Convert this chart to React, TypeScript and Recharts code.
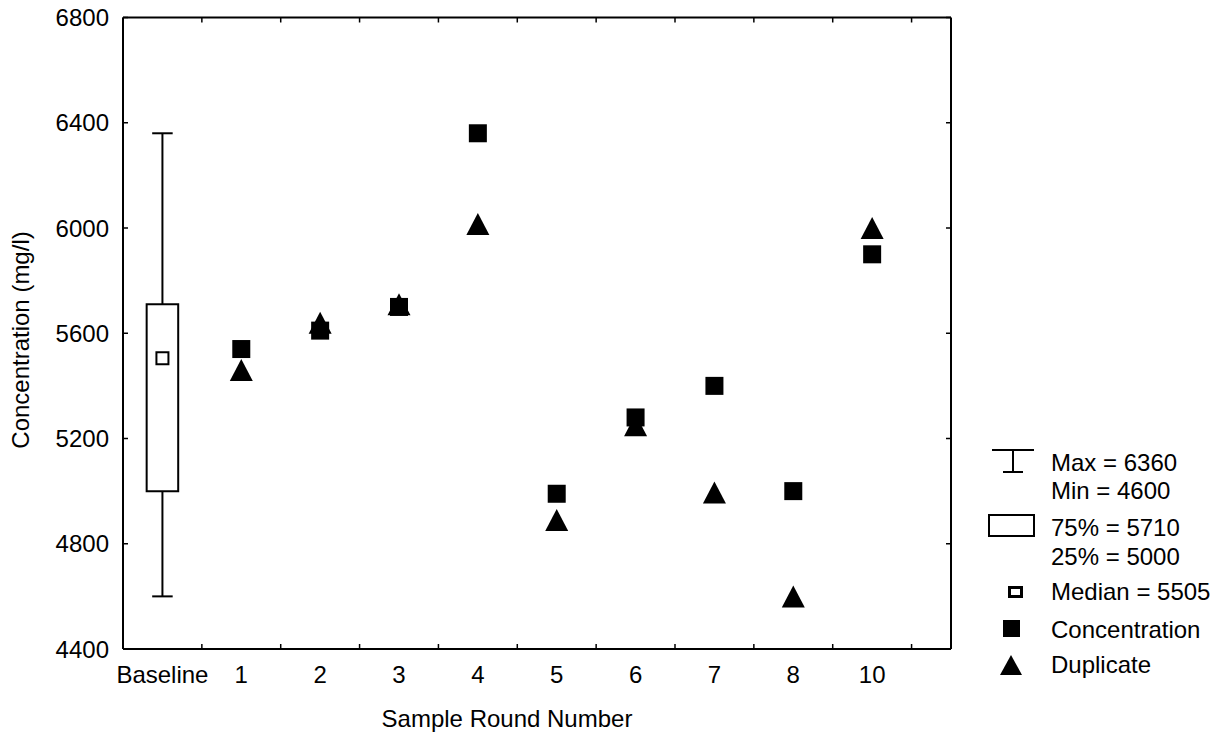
import React from "react";
import { ComposedChart, Scatter, XAxis, YAxis, ReferenceArea, ReferenceLine } from "recharts";

// tick labels along the bottom (Baseline + sample rounds)
const roundLabels = ["Baseline", "1", "2", "3", "4", "5", "6", "7", "8", "10"];
// values for rounds 1..10 (positions 1..9)
const concentration = [5540, 5610, 5700, 6360, 4990, 5280, 5400, 5000, 5900];
const duplicate = [5460, 5640, 5710, 6015, 4890, 5250, 4995, 4600, 6000];
// baseline box plot stats
const baselineMax = 6360;
const baselineMin = 4600;
const baselineQ75 = 5710;
const baselineQ25 = 5000;
const baselineMedian = 5505;
const yTicks = [4400, 4800, 5200, 5600, 6000, 6400, 6800];

const FONT = "'Liberation Sans', Arial, Helvetica, sans-serif";

const concData = concentration.map((v, i) => ({ x: i + 1, y: v }));
const dupData = duplicate.map((v, i) => ({ x: i + 1, y: v }));
const medianData = [{ x: 0, y: baselineMedian }];

// ticks at category centres (labels) and at boundaries (tick marks)
const xTicks: number[] = [];
roundLabels.forEach((_, i) => {
  xTicks.push(i - 0.5, i);
});
xTicks.push(roundLabels.length - 0.5);
const halfTicks = xTicks.filter((t) => !Number.isInteger(t));

const BottomTick = (props: any) => {
  const { x, y, payload } = props;
  const v = payload.value;
  if (Number.isInteger(v)) {
    return (
      <text x={x} y={y + 34} textAnchor="middle" fontSize={24} fontFamily={FONT} fill="#000">
        {roundLabels[v]}
      </text>
    );
  }
  return <line x1={x} y1={y} x2={x} y2={y - 5} stroke="#000" strokeWidth={1.5} />;
};

const TopTick = (props: any) => {
  const { x, y } = props;
  return <line x1={x} y1={y} x2={x} y2={y + 5} stroke="#000" strokeWidth={1.5} />;
};

const LeftTick = (props: any) => {
  const { x, y, payload } = props;
  return (
    <g>
      <line x1={x} y1={y} x2={x + 5} y2={y} stroke="#000" strokeWidth={1.5} />
      <text x={x - 14} y={y + 8.5} textAnchor="end" fontSize={24} fontFamily={FONT} fill="#000">
        {payload.value}
      </text>
    </g>
  );
};

const RightTick = (props: any) => {
  const { x, y } = props;
  return <line x1={x} y1={y} x2={x - 5} y2={y} stroke="#000" strokeWidth={1.5} />;
};

const SquareShape = (p: any) => <rect x={p.cx - 9} y={p.cy - 9} width={18} height={18} fill="#000" />;
const TriangleShape = (p: any) => (
  <path d={`M${p.cx},${p.cy - 11} L${p.cx + 11.5},${p.cy + 11} L${p.cx - 11.5},${p.cy + 11} Z`} fill="#000" />
);
const MedianShape = (p: any) => (
  <rect x={p.cx - 6} y={p.cy - 6} width={12} height={12} fill="#fff" stroke="#000" strokeWidth={2} />
);
const NoShape = () => <g />;

const axisLine = { stroke: "#000", strokeWidth: 2 };

export default function App() {
  return (
    <div style={{ position: "fixed", left: 0, top: 0, width: 1228, height: 740, background: "#fff" }}>
      <ComposedChart width={1228} height={740} margin={{ top: 16.5, right: 276, bottom: 0, left: 0 }}>
        <XAxis
          dataKey="x"
          type="number"
          domain={[-0.5, 10]}
          ticks={xTicks}
          interval={0}
          allowDataOverflow
          height={91}
          tickSize={0}
          tickMargin={0}
          tickLine={false}
          axisLine={axisLine}
          tick={<BottomTick />}
          label={{
            content: () => (
              <text x={507} y={727} textAnchor="middle" fontSize={24} fontFamily={FONT} fill="#000">
                Sample Round Number
              </text>
            ),
          }}
        />
        <XAxis
          xAxisId="top"
          dataKey="x"
          orientation="top"
          type="number"
          domain={[-0.5, 10]}
          ticks={halfTicks}
          interval={0}
          allowDataOverflow
          height={1}
          tickSize={0}
          tickMargin={0}
          tickLine={false}
          axisLine={axisLine}
          tick={<TopTick />}
        />
        <YAxis
          type="number"
          domain={[4400, 6800]}
          ticks={yTicks}
          interval={0}
          allowDataOverflow
          width={123}
          tickSize={0}
          tickMargin={0}
          tickLine={false}
          axisLine={axisLine}
          tick={<LeftTick />}
          label={{
            content: () => (
              <text
                transform="translate(29, 340) rotate(-90)"
                textAnchor="middle"
                fontSize={24}
                fontFamily={FONT}
                fill="#000"
              >
                Concentration (mg/l)
              </text>
            ),
          }}
        />
        <YAxis
          yAxisId="right"
          orientation="right"
          type="number"
          domain={[4400, 6800]}
          ticks={yTicks}
          interval={0}
          allowDataOverflow
          width={1}
          tickSize={0}
          tickMargin={0}
          tickLine={false}
          axisLine={axisLine}
          tick={<RightTick />}
        />

        {/* baseline box plot */}
        <ReferenceLine segment={[{ x: 0, y: baselineQ75 }, { x: 0, y: baselineMax }]} stroke="#000" strokeWidth={2} />
        <ReferenceLine segment={[{ x: 0, y: baselineMin }, { x: 0, y: baselineQ25 }]} stroke="#000" strokeWidth={2} />
        <ReferenceLine segment={[{ x: -0.13, y: baselineMax }, { x: 0.13, y: baselineMax }]} stroke="#000" strokeWidth={2} />
        <ReferenceLine segment={[{ x: -0.13, y: baselineMin }, { x: 0.13, y: baselineMin }]} stroke="#000" strokeWidth={2} />
        <ReferenceArea
          x1={-0.2}
          x2={0.2}
          y1={baselineQ25}
          y2={baselineQ75}
          fill="#fff"
          fillOpacity={1}
          stroke="#000"
          strokeWidth={2}
        />

        {/* invisible series so the mirrored top/right axes get drawn */}
        <Scatter
          data={concData}
          dataKey="y"
          xAxisId="top"
          yAxisId="right"
          shape={NoShape}
          legendType="none"
          isAnimationActive={false}
        />
        <Scatter data={medianData} dataKey="y" shape={MedianShape} isAnimationActive={false} />
        <Scatter data={concData} dataKey="y" shape={SquareShape} isAnimationActive={false} />
        <Scatter data={dupData} dataKey="y" shape={TriangleShape} isAnimationActive={false} />
      </ComposedChart>

      {/* legend */}
      <svg
        width={1228}
        height={740}
        style={{ position: "absolute", left: 0, top: 0, pointerEvents: "none" }}
        fontFamily={FONT}
        fontSize={24}
      >
        <line x1={992} y1={450} x2={1034} y2={450} stroke="#000" strokeWidth={2} />
        <line x1={1013} y1={450} x2={1013} y2={472} stroke="#000" strokeWidth={2} />
        <line x1={1003} y1={472} x2={1023} y2={472} stroke="#000" strokeWidth={2} />
        <text x={1051} y={470.5} fill="#000">{`Max = ${baselineMax}`}</text>
        <text x={1051} y={498.5} fill="#000">{`Min = ${baselineMin}`}</text>

        <rect x={989} y={515} width={45} height={21} fill="#fff" stroke="#000" strokeWidth={2} />
        <text x={1051} y={535.5} fill="#000">{`75% = ${baselineQ75}`}</text>
        <text x={1051} y={564.5} fill="#000">{`25% = ${baselineQ25}`}</text>

        <rect x={1009.5} y={587.5} width={12} height={9} fill="#fff" stroke="#000" strokeWidth={3} />
        <text x={1051} y={599.5} fill="#000">{`Median = ${baselineMedian}`}</text>

        <rect x={1003} y={620} width={17} height={17} fill="#000" />
        <text x={1051} y={637.5} fill="#000">Concentration</text>

        <path d="M1011,655 L1022,675 L1000,675 Z" fill="#000" />
        <text x={1051} y={672.5} fill="#000">Duplicate</text>
      </svg>
    </div>
  );
}
